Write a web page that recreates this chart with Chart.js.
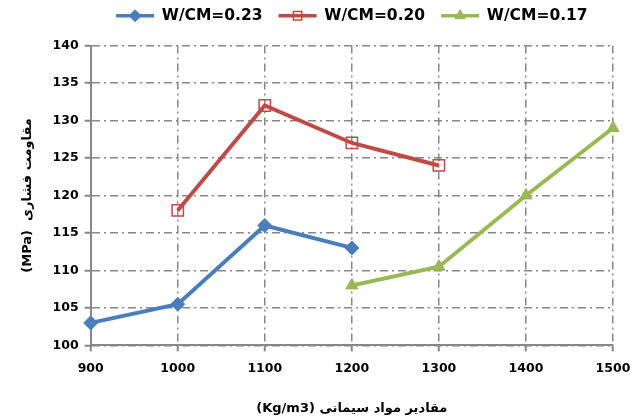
<!DOCTYPE html>
<html>
<head>
<meta charset="utf-8">
<script src="https://cdn.jsdelivr.net/npm/chart.js@4.4.0/dist/chart.umd.min.js"></script>
<style>
  body { margin: 0; background: #fff; }
  #wrap { width: 633px; height: 420px; }
</style>
</head>
<body>
<div id="wrap"><canvas id="chart" width="633" height="420"></canvas></div>
<script>
// cement content (Kg/m3)
var cementLabels = ["900", "1000", "1100", "1200", "1300", "1400", "1500"];

// compressive strength (MPa) per w/cm ratio
var wcm023 = [103, 105.5, 116, 113, null, null, null];
var wcm020 = [null, 118, 132, 127, 124, null, null];
var wcm017 = [null, null, null, 108, 110.5, 120, 129];

var seriesNames = ["W/CM=0.23", "W/CM=0.20", "W/CM=0.17"];

var yTicks = { min: 100, max: 140, step: 5 };

var gridGray = "#878787";
var dashDot = [8, 4, 2, 4];
var fontFam = "'DejaVu Sans', 'Liberation Sans', sans-serif";

// legend: line with small marker through it, like excel
var legendMarkers = {
	id: "legendMarkers",
	beforeInit: function(chart) {
		var fit = chart.legend.fit;
		chart.legend.fit = function() {
			fit.call(this);
			this.height += 12;
		};
	},
	afterDraw: function(chart) {
		var lg = chart.legend;
		if (!lg || !lg.legendHitBoxes) return;
		var ctx = chart.ctx;
		var bw = lg.options.labels.boxWidth;
		lg.legendHitBoxes.forEach(function(hb, i) {
			var ds = chart.data.datasets[i];
			var cy = hb.top + hb.height / 2;
			ctx.save();
			ctx.strokeStyle = ds.borderColor;
			ctx.lineWidth = 3.5;
			ctx.beginPath();
			ctx.moveTo(hb.left, cy);
			ctx.lineTo(hb.left + bw, cy);
			ctx.stroke();
			ctx.fillStyle = ds.pointBackgroundColor;
			ctx.strokeStyle = ds.pointBorderColor;
			ctx.lineWidth = ds.pointBorderWidth;
			Chart.helpers.drawPoint(ctx, {
				pointStyle: ds.pointStyle,
				radius: 6,
				borderWidth: ds.pointBorderWidth,
				rotation: 0
			}, hb.left + bw / 2, cy);
			ctx.restore();
		});
	}
};

var ctx = document.getElementById("chart");

var data = {
	labels: cementLabels,
	datasets: [
		{
			label: seriesNames[0],
			data: wcm023,
			borderColor: "#4A7EBB",
			backgroundColor: "#4A7EBB",
			borderWidth: 4,
			pointStyle: "rectRot",
			pointRadius: 7,
			pointHoverRadius: 7,
			pointBackgroundColor: "#4A7EBB",
			pointBorderColor: "#4A7EBB",
			pointBorderWidth: 1,
			tension: 0
		},
		{
			label: seriesNames[1],
			data: wcm020,
			borderColor: "#BE4B48",
			backgroundColor: "#BE4B48",
			borderWidth: 4,
			pointStyle: "rect",
			pointRadius: 8,
			pointHoverRadius: 8,
			pointBackgroundColor: "rgba(255,255,255,0)",
			pointBorderColor: "#BE4B48",
			pointBorderWidth: 1.5,
			tension: 0
		},
		{
			label: seriesNames[2],
			data: wcm017,
			borderColor: "#98B954",
			backgroundColor: "#98B954",
			borderWidth: 4,
			pointStyle: "triangle",
			pointRadius: 7,
			pointHoverRadius: 7,
			pointBackgroundColor: "#98B954",
			pointBorderColor: "#98B954",
			pointBorderWidth: 1,
			tension: 0
		}
	]
};

var options = {
	responsive: false,
	animation: false,
	layout: { padding: { left: 18, right: 4, top: -8, bottom: 2 } },
	plugins: {
		tooltip: { enabled: false },
		legend: {
			display: true,
			position: "top",
			fullSize: false,
			labels: {
				boxWidth: 38,
				boxHeight: 12,
				padding: 16,
				color: "#000",
				font: { family: fontFam, size: 15.5, weight: "bold" },
				generateLabels: function(chart) {
					var items = Chart.defaults.plugins.legend.labels.generateLabels(chart);
					items.forEach(function(it) {
						it.fillStyle = "rgba(0,0,0,0)";
						it.strokeStyle = "rgba(0,0,0,0)";
						it.lineWidth = 0;
					});
					return items;
				}
			}
		}
	},
	scales: {
		x: {
			type: "category",
			offset: false,
			afterFit: function(scale) {
				scale.paddingRight = 20;
			},
			grid: {
				color: gridGray,
				lineWidth: 1.5,
				tickLength: 6,
				tickColor: gridGray,
				tickBorderDash: [],
				tickWidth: 2
			},
			border: { display: true, color: gridGray, width: 2, dash: dashDot },
			ticks: {
				color: "#000",
				padding: 10,
				maxRotation: 0,
				font: { family: fontFam, size: 12.5, weight: "bold" }
			},
			title: {
				display: true,
				text: "(Kg/m3) مقادیر مواد سیمانی",
				color: "#000",
				padding: { top: 14, bottom: 2 },
				font: { family: fontFam, size: 13, weight: "bold" }
			}
		},
		y: {
			min: yTicks.min,
			max: yTicks.max,
			grid: {
				color: gridGray,
				lineWidth: 1.5,
				tickLength: 6,
				tickColor: gridGray,
				tickBorderDash: [],
				tickWidth: 2
			},
			border: { display: true, color: gridGray, width: 2, dash: dashDot },
			ticks: {
				stepSize: yTicks.step,
				color: "#000",
				padding: 6,
				font: { family: fontFam, size: 12.5, weight: "bold" }
			},
			title: {
				display: true,
				text: "(MPa)  مقاومت فشاری",
				color: "#000",
				padding: { top: 2, bottom: 11 },
				font: { family: fontFam, size: 13, weight: "bold" }
			}
		}
	}
};

var chart = new Chart(ctx, {
	type: "line",
	data: data,
	options: options,
	plugins: [legendMarkers]
});
</script>
</body>
</html>
